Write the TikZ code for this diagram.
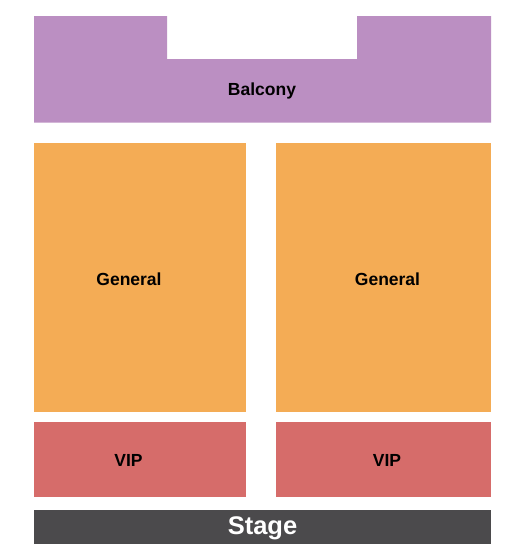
\documentclass[tikz,border=0pt]{standalone}
\usepackage{fontspec}
\setmainfont{Liberation Sans}
\usetikzlibrary{positioning}

\definecolor{balconycol}{RGB}{187,143,194}
\definecolor{generalcol}{RGB}{244,172,85}
\definecolor{vipcol}{RGB}{214,108,106}
\definecolor{stagecol}{RGB}{75,74,76}

\begin{document}
\begin{tikzpicture}[
    x=1pt,
    y=-1pt,
    label/.style={
        anchor=base,
        inner sep=0pt,
        font=\bfseries\fontsize{17.5}{20}\selectfont,
        text=black
    },
    stagelabel/.style={
        anchor=base,
        inner sep=0pt,
        font=\bfseries\fontsize{25.5}{28}\selectfont,
        text=white
    }
]
\useasboundingbox (0,0) rectangle (525,560);

% Balcony with notch
\fill [balconycol] (34,16) -- (167,16) -- (167,59) -- (357,59) -- (357,16)
    -- (491,16) -- (491,122.5) -- (34,122.5) -- cycle;
\node [label] (balcony) at (262,95) {Balcony};

% General floor
\fill [generalcol] (34,143) rectangle (246,411.5);
\fill [generalcol] (276,143) rectangle (491,411.5);
\node [label] (genleft) at (129,285.5) {General};
\node [label] (genright) at (387.5,285.5) {General};

% VIP
\fill [vipcol] (34,422) rectangle (246,496.5);
\fill [vipcol] (276,422) rectangle (491,496.5);
\node [label] (vipleft) at (128.5,466) {VIP};
\node [label] (vipright) at (387,466) {VIP};

% Stage
\fill [stagecol] (34,510) rectangle (491,544);
\node [stagelabel] (stage) at (262.5,534.5) {Stage};

\end{tikzpicture}
\end{document}
